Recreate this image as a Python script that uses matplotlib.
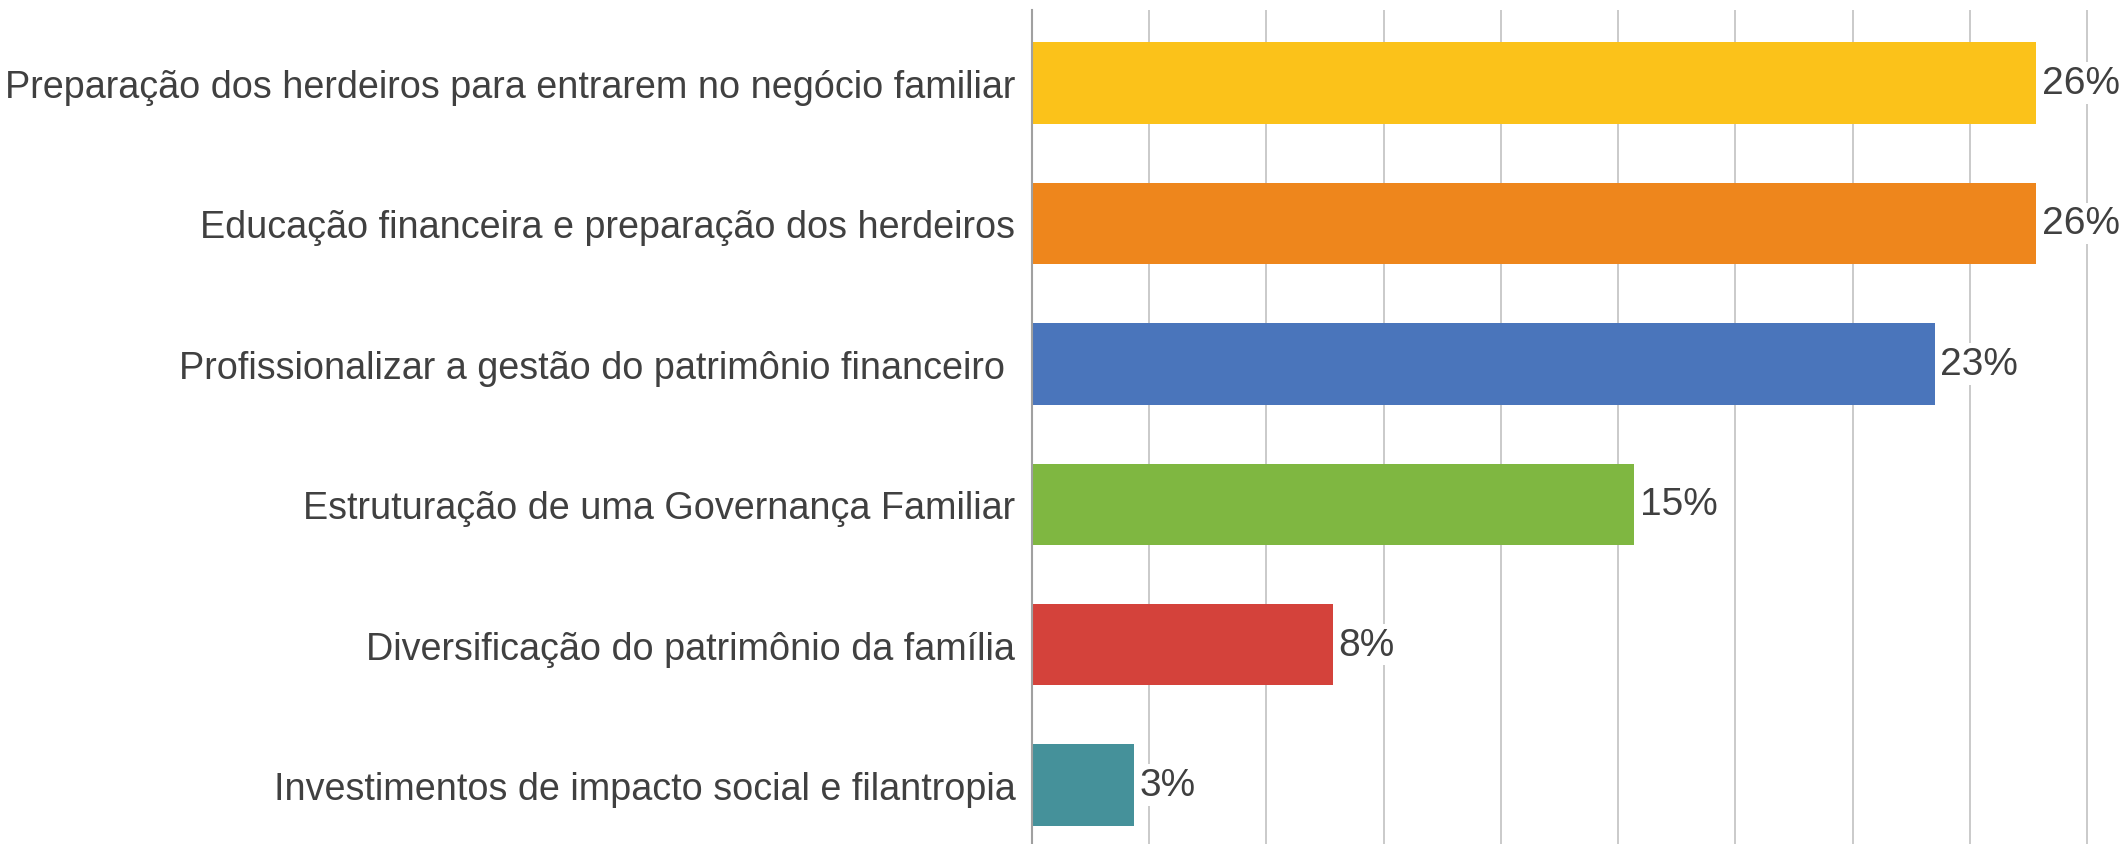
import matplotlib
matplotlib.use('Agg')
import matplotlib.pyplot as plt

# survey results, share of answers (%)
categories = [
    'Preparação dos herdeiros para entrarem no negócio familiar',
    'Educação financeira e preparação dos herdeiros',
    'Profissionalizar a gestão do patrimônio financeiro ',
    'Estruturação de uma Governança Familiar',
    'Diversificação do patrimônio da família',
    'Investimentos de impacto social e filantropia',
]
values = [25.7, 25.7, 23.1, 15.4, 7.7, 2.6]
value_labels = ['26%', '26%', '23%', '15%', '8%', '3%']
colors = ['#FBC21A', '#EE861C', '#4A75BB', '#7FB741', '#D4423B', '#45919A']

plt.rcParams['font.family'] = ['Liberation Sans', 'DejaVu Sans']

fig = plt.figure(figsize=(21.26, 8.45), dpi=100)
ax = fig.add_axes([1032 / 2126, 0.0, 1 - 1032 / 2126, 1 - 11 / 845])

ypos = list(range(len(categories) - 1, -1, -1))
ax.barh(ypos, values, height=0.58, color=colors, zorder=2)

for y, v, lab in zip(ypos, values, value_labels):
    ax.text(v + 0.15, y, lab, va='center', ha='left', fontsize=28, color='#404040',
            zorder=3, bbox=dict(facecolor='white', edgecolor='none', pad=2))

ax.set_xlim(0, 28)
ax.set_ylim(-0.42, 5.52)
ax.set_xticks(range(0, 28, 3))
ax.set_xticklabels([])
ax.tick_params(axis='x', length=0)
ax.grid(axis='x', color='#CACACA', linewidth=1.4, zorder=0)
ax.set_axisbelow(True)

ax.set_yticks(ypos)
ax.set_yticklabels(categories, fontsize=27.2, color='#404040')
ax.tick_params(axis='y', length=0, pad=12)

for s in ['top', 'right', 'bottom']:
    ax.spines[s].set_visible(False)
ax.spines['left'].set_color('#A0A0A0')
ax.spines['left'].set_linewidth(1.5)

plt.savefig('out.png', dpi=100)
plt.close()
